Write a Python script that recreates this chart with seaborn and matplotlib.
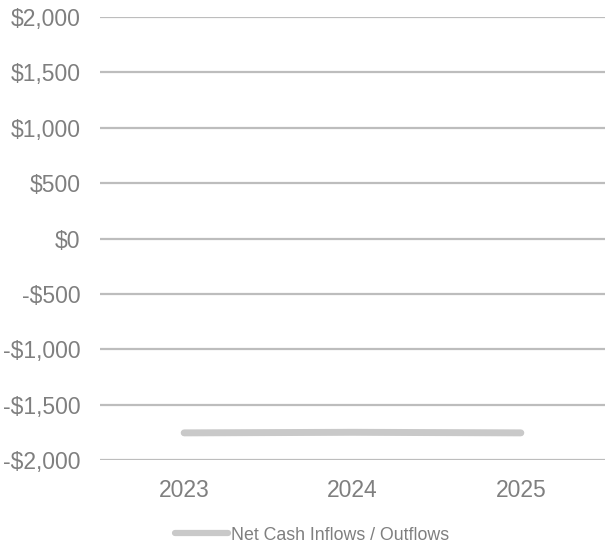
import matplotlib
matplotlib.use("Agg")
import matplotlib.pyplot as plt
import seaborn as sns
import pandas as pd

years = ["2023", "2024", "2025"]
net_cash = [-1755, -1750, -1755]
y_ticks = [-2000, -1500, -1000, -500, 0, 500, 1000, 1500, 2000]

sns.set_theme(style="white")
plt.rcParams["font.family"] = ["Liberation Sans", "DejaVu Sans"]

text_color = "#7f7f7f"
grid_color = "#bdbdbd"
line_color = "#c9c9c9"

df = pd.DataFrame({"Year": years, "Value": net_cash})

fig = plt.figure(figsize=(6.05, 5.46), dpi=100)
ax = fig.add_axes([100 / 605, 1 - 460 / 546, 505 / 605, 443 / 546])

sns.lineplot(data=df, x="Year", y="Value", ax=ax, color=line_color,
             linewidth=5, solid_capstyle="round", sort=False,
             label="Net Cash Inflows / Outflows", legend=False)

ax.set_xlim(-0.5, len(years) - 0.5)
ax.set_ylim(-2000, 2000)
ax.set_yticks(y_ticks)


def money(v):
    return f"-${abs(v):,}" if v < 0 else f"${v:,}"


ax.set_yticklabels([money(v) for v in y_ticks])
ax.set_xlabel("")
ax.set_ylabel("")
for s in ax.spines.values():
    s.set_visible(False)
ax.tick_params(axis="both", length=0, labelsize=16.5, colors=text_color)
ax.tick_params(axis="y", pad=14)
ax.tick_params(axis="x", pad=14)
for v in y_ticks:
    ax.axhline(v, color=grid_color, linewidth=1.6, zorder=0)

handles, labels = ax.get_legend_handles_labels()
leg = fig.legend(handles, labels, loc="center",
                 bbox_to_anchor=(312 / 605, 1 - 535 / 546),
                 bbox_transform=fig.transFigure, frameon=False,
                 fontsize=12.8, handlelength=3.0, handletextpad=0.15,
                 labelcolor=text_color)
for h in leg.get_lines():
    h.set_linewidth(4.5)
    h.set_solid_capstyle("round")

fig.savefig("out.png", dpi=100)
